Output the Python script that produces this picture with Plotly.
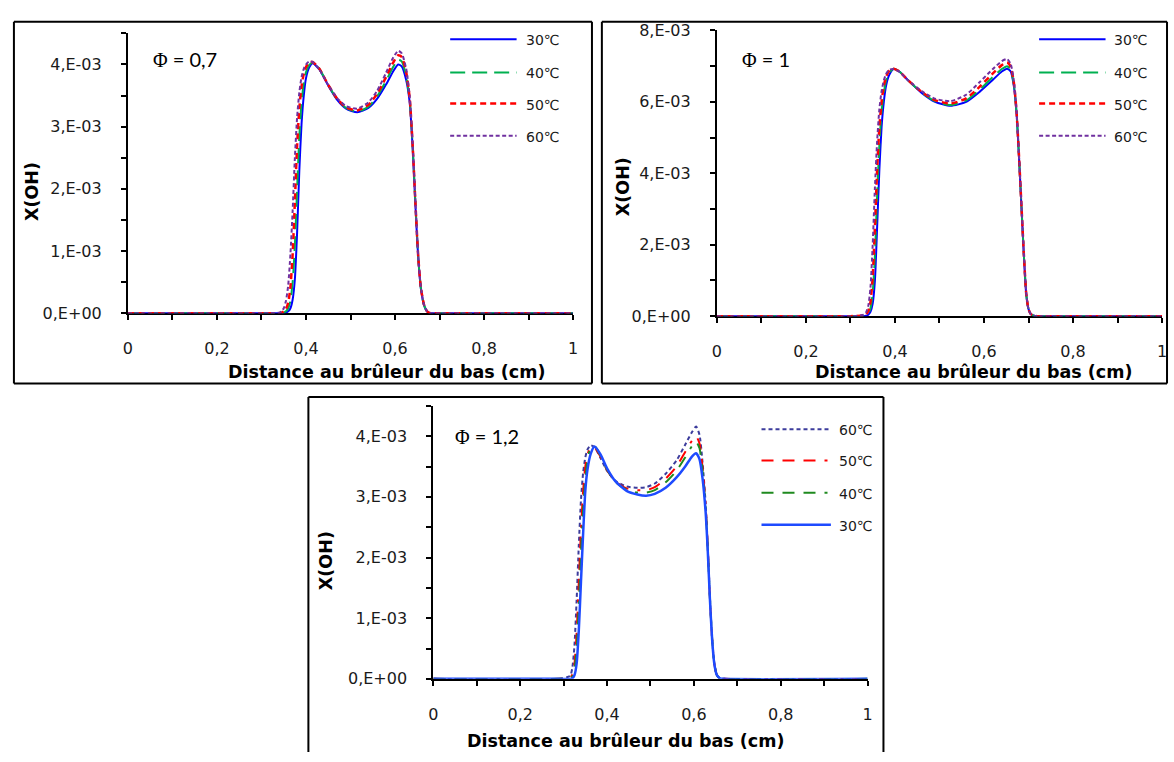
import plotly.graph_objects as go

W, H = 1174, 762
SCALE = 1e-3  # values below are read in units of 1e-3

TEMPS = ["30℃", "40℃", "50℃", "60℃"]
X_TICKS = [0, 0.2, 0.4, 0.6, 0.8, 1.0]
X_TICKTEXT = ["0", "0,2", "0,4", "0,6", "0,8", "1"]
Y_TICKS_A = [0, 1e-3, 2e-3, 3e-3, 4e-3]
Y_TICKTEXT_A = ["0,E+00", "1,E-03", "2,E-03", "3,E-03", "4,E-03"]
Y_TICKS_B = [0, 2e-3, 4e-3, 6e-3, 8e-3]
Y_TICKTEXT_B = ["0,E+00", "2,E-03", "4,E-03", "6,E-03", "8,E-03"]
PHI_LABELS = ["Φ", "= 0,7", "= 1", "= 1,2"]
X_TITLE = "Distance au brûleur du bas (cm)"
Y_TITLE = "X(OH)"

# ---- Phi = 0.7 ----
P1_X = [0, 0.30, 0.34, 0.345, 0.35, 0.355, 0.36, 0.365, 0.37, 0.375,
        0.38, 0.385, 0.39, 0.395, 0.40, 0.407, 0.415, 0.43, 0.45, 0.47,
        0.49, 0.515, 0.54, 0.56, 0.58, 0.595, 0.607, 0.615, 0.625, 0.633,
        0.64, 0.646, 0.652, 0.658, 0.665, 0.672, 0.68, 0.70, 1.0]
P1_30 = [0, 0, 0, 0, 0, 0.01, 0.03, 0.08, 0.22, 0.55,
         1.3, 2.3, 3.05, 3.5, 3.78, 3.95, 4.02, 3.92, 3.66, 3.43,
         3.29, 3.23, 3.30, 3.45, 3.68, 3.88, 4.00, 3.97, 3.75, 3.38,
         2.6, 1.7, 0.9, 0.4, 0.13, 0.03, 0, 0, 0]
P1_40 = [0, 0, 0, 0, 0.01, 0.03, 0.08, 0.2, 0.5, 1.1,
         2.0, 2.85, 3.4, 3.7, 3.88, 3.99, 4.03, 3.93, 3.67, 3.44,
         3.30, 3.24, 3.32, 3.49, 3.74, 3.95, 4.08, 4.05, 3.82, 3.42,
         2.62, 1.72, 0.9, 0.4, 0.13, 0.03, 0, 0, 0]
P1_50 = [0, 0, 0, 0.01, 0.03, 0.07, 0.17, 0.42, 0.95, 1.8,
         2.7, 3.3, 3.65, 3.85, 3.96, 4.03, 4.04, 3.93, 3.67, 3.45,
         3.31, 3.26, 3.35, 3.53, 3.80, 4.02, 4.15, 4.12, 3.88, 3.45,
         2.64, 1.74, 0.92, 0.41, 0.14, 0.03, 0, 0, 0]
P1_60 = [0, 0, 0.01, 0.03, 0.08, 0.2, 0.45, 0.95, 1.65, 2.5,
         3.15, 3.55, 3.8, 3.93, 4.0, 4.05, 4.04, 3.92, 3.67, 3.46,
         3.33, 3.29, 3.39, 3.58, 3.87, 4.10, 4.22, 4.18, 3.93, 3.48,
         2.66, 1.76, 0.93, 0.42, 0.14, 0.03, 0, 0, 0]

# ---- Phi = 1 ----
P2_X = [0, 0.30, 0.33, 0.335, 0.34, 0.345, 0.35, 0.355, 0.36, 0.365,
        0.37, 0.375, 0.38, 0.387, 0.397, 0.41, 0.43, 0.46, 0.49, 0.525,
        0.56, 0.59, 0.62, 0.64, 0.652, 0.66, 0.667, 0.673, 0.678, 0.684,
        0.69, 0.695, 0.70, 0.705, 0.712, 0.72, 1.0]
P2_30 = [0, 0, 0, 0.01, 0.04, 0.12, 0.35, 1.0, 2.5, 4.1,
         5.3, 6.0, 6.45, 6.75, 6.92, 6.85, 6.6, 6.25, 6.0, 5.89,
         6.0, 6.28, 6.62, 6.85, 6.93, 6.85, 6.45, 5.7, 4.6, 3.1,
         1.6, 0.6, 0.2, 0.06, 0.01, 0, 0]
P2_40 = [0, 0, 0.01, 0.03, 0.08, 0.22, 0.65, 1.7, 3.4, 4.8,
         5.75, 6.25, 6.6, 6.82, 6.93, 6.85, 6.6, 6.26, 6.02, 5.91,
         6.04, 6.34, 6.70, 6.92, 7.0, 6.9, 6.5, 5.72, 4.62, 3.12,
         1.62, 0.6, 0.2, 0.06, 0.01, 0, 0]
P2_50 = [0, 0, 0.02, 0.05, 0.14, 0.4, 1.1, 2.5, 4.1, 5.3,
         6.0, 6.45, 6.7, 6.87, 6.93, 6.85, 6.6, 6.28, 6.05, 5.95,
         6.1, 6.42, 6.8, 7.03, 7.1, 6.98, 6.55, 5.75, 4.64, 3.14,
         1.63, 0.61, 0.2, 0.06, 0.01, 0, 0]
P2_60 = [0, 0, 0.04, 0.1, 0.28, 0.8, 2.0, 3.6, 4.9, 5.8,
         6.3, 6.6, 6.78, 6.9, 6.92, 6.84, 6.6, 6.3, 6.09, 6.02,
         6.2, 6.55, 6.92, 7.14, 7.2, 7.06, 6.6, 5.78, 4.66, 3.15,
         1.64, 0.62, 0.2, 0.06, 0.01, 0, 0]

# ---- Phi = 1.2 ----
P3_X = [0, 0.29, 0.315, 0.32, 0.325, 0.33, 0.335, 0.34, 0.345, 0.35,
        0.355, 0.362, 0.371, 0.385, 0.40, 0.42, 0.445, 0.47, 0.49, 0.51,
        0.535, 0.56, 0.58, 0.595, 0.605, 0.613, 0.62, 0.627, 0.632, 0.637,
        0.642, 0.647, 0.653, 0.66, 0.67, 1.0]
P3_30 = [0, 0, 0, 0.01, 0.06, 0.25, 0.8, 1.6, 2.4, 3.1,
         3.45, 3.7, 3.83, 3.7, 3.47, 3.25, 3.1, 3.04, 3.02, 3.05,
         3.15, 3.32, 3.5, 3.66, 3.72, 3.62, 3.3, 2.75, 2.1, 1.3,
         0.65, 0.25, 0.06, 0.01, 0, 0]
P3_40 = [0, 0, 0.01, 0.04, 0.15, 0.5, 1.2, 2.05, 2.8, 3.3,
         3.6, 3.8, 3.84, 3.68, 3.45, 3.24, 3.12, 3.07, 3.07, 3.11,
         3.24, 3.43, 3.65, 3.83, 3.91, 3.8, 3.42, 2.82, 2.14, 1.32,
         0.66, 0.25, 0.06, 0.01, 0, 0]
P3_50 = [0, 0, 0.02, 0.07, 0.25, 0.75, 1.6, 2.45, 3.1, 3.5,
         3.7, 3.82, 3.82, 3.66, 3.44, 3.25, 3.14, 3.11, 3.11, 3.16,
         3.3, 3.5, 3.74, 3.92, 4.0, 3.88, 3.48, 2.86, 2.16, 1.33,
         0.66, 0.25, 0.06, 0.01, 0, 0]
P3_60 = [0, 0, 0.05, 0.18, 0.55, 1.3, 2.2, 2.95, 3.4, 3.65,
         3.78, 3.85, 3.82, 3.64, 3.43, 3.26, 3.17, 3.15, 3.16, 3.22,
         3.38, 3.6, 3.86, 4.06, 4.16, 4.02, 3.56, 2.9, 2.18, 1.34,
         0.67, 0.26, 0.06, 0.01, 0, 0]

# ---------------- styles ----------------
STYLE_TOP = {
    "30℃": dict(color="#0000FF", width=2, dash="solid"),
    "40℃": dict(color="#00B050", width=2, dash="15px,7px"),
    "50℃": dict(color="#FF0000", width=2.5, dash="6px,4px"),
    "60℃": dict(color="#7030A0", width=2, dash="4px,2.5px"),
}
LDD = "12px,9px,12px,9px,12px,9px,3px,9px"
STYLE_BOT = {
    "30℃": dict(color="#1E4BFF", width=2.5, dash="solid"),
    "40℃": dict(color="#1F8A1F", width=2, dash=LDD),
    "50℃": dict(color="#FF0000", width=2, dash=LDD),
    "60℃": dict(color="#3C3C9C", width=2, dash="4px,3px"),
}


def px(x):
    return x / W


def py(y):
    return 1 - y / H


panels = [
    dict(x=P1_X, ys=[P1_30, P1_40, P1_50, P1_60], order=TEMPS, legend_order=TEMPS,
         style=STYLE_TOP, xdom=[px(124), px(573)], ydom=[py(312), py(25)],
         yrange=[0, 4.5e-3], yt=Y_TICKS_A, ytt=Y_TICKTEXT_A, ydm=0.5e-3,
         frame=(9, 13, 592, 384, True), phi=PHI_LABELS[1], phi_pos=(147, 51),
         leg_x=(449, 516, 523), leg_y=[31, 65, 97, 130],
         xt_pos=(385, 372), yt_pos=(28, 187)),
    dict(x=P2_X, ys=[P2_30, P2_40, P2_50, P2_60], order=TEMPS, legend_order=TEMPS,
         style=STYLE_TOP, xdom=[px(718), px(1167)], ydom=[py(315), py(22)],
         yrange=[0, 8e-3], yt=Y_TICKS_B, ytt=Y_TICKTEXT_B, ydm=1e-3,
         frame=(602, 13, 1172, 384, True), phi=PHI_LABELS[2], phi_pos=(741, 51),
         leg_x=(1043, 1110, 1117), leg_y=[31, 65, 97, 130],
         xt_pos=(977, 372), yt_pos=(624, 182)),
    dict(x=P3_X, ys=[P3_30, P3_40, P3_50, P3_60], order=TEMPS[::-1], legend_order=TEMPS[::-1],
         style=STYLE_BOT, xdom=[px(432), px(870)], ydom=[py(687), py(407)],
         yrange=[0, 4.5e-3], yt=Y_TICKS_A, ytt=Y_TICKTEXT_A, ydm=0.5e-3,
         frame=(306, 398, 886, 762, False), phi=PHI_LABELS[3], phi_pos=(452, 438),
         leg_x=(763, 833, 839), leg_y=[431, 463, 496, 529],
         xt_pos=(626, 751), yt_pos=(324, 566)),
]

fig = go.Figure()
shapes = []
annotations = []
TICKFONT = dict(family="DejaVu Sans", size=16, color="#1a1a1a")
TITLEFONT = dict(family="DejaVu Sans", size=17.5, color="black")
FRAME_LINE = dict(color="black", width=2)

for i, p in enumerate(panels):
    n = "" if i == 0 else str(i + 1)
    xa, ya = "x" + n, "y" + n
    series = dict(zip(TEMPS, p["ys"]))
    for t in p["order"]:
        fig.add_trace(go.Scatter(
            x=p["x"], y=[v * SCALE for v in series[t]], name=t, mode="lines",
            line=dict(shape="spline", smoothing=0.6, **p["style"][t]),
            xaxis=xa, yaxis=ya, showlegend=False))
    fig.update_layout({
        "xaxis" + n: dict(
            domain=p["xdom"], anchor=ya, range=[0, 1],
            tickmode="array", tickvals=X_TICKS, ticktext=X_TICKTEXT,
            ticks="outside", ticklen=5, tickwidth=1.5, tickcolor="black",
            minor=dict(ticks="outside", ticklen=5, tickwidth=1.5, tickcolor="black",
                       tick0=0, dtick=0.1),
            showline=True, linecolor="black", linewidth=2, showgrid=False,
            zeroline=False, tickfont=TICKFONT, ticklabelstandoff=15,
            layer="below traces"),
        "yaxis" + n: dict(
            domain=p["ydom"], anchor=xa, range=p["yrange"],
            tickmode="array", tickvals=p["yt"], ticktext=p["ytt"],
            ticks="outside", ticklen=5, tickwidth=1.5, tickcolor="black",
            minor=dict(ticks="outside", ticklen=5, tickwidth=1.5, tickcolor="black",
                       tick0=0, dtick=p["ydm"]),
            showline=True, linecolor="black", linewidth=2, showgrid=False,
            zeroline=False, tickfont=TICKFONT, ticklabelstandoff=16,
            layer="below traces"),
    })
    # panel frame (the bottom panel's frame runs off the lower edge)
    x0, y0, x1, y1, closed = p["frame"]
    edges = [(x0, y0, x1, y0), (x0, y0, x0, y1), (x1, y0, x1, y1)]
    if closed:
        edges.append((x0, y1, x1, y1))
    for ax0, ay0, ax1, ay1 in edges:
        shapes.append(dict(type="line", xref="paper", yref="paper",
                           x0=px(ax0), x1=px(ax1), y0=py(ay0), y1=py(ay1), line=FRAME_LINE))
    # legend (drawn manually to match the long sample lines)
    lx0, lx1, ltx = p["leg_x"]
    for t, ly in zip(p["legend_order"], p["leg_y"]):
        st = p["style"][t]
        shapes.append(dict(type="line", xref="paper", yref="paper",
                           x0=px(lx0), x1=px(lx1), y0=py(ly), y1=py(ly),
                           line=dict(color=st["color"], width=st["width"], dash=st["dash"])))
        annotations.append(dict(xref="paper", yref="paper", x=px(ltx), y=py(ly + 1),
                                text=t, showarrow=False, xanchor="left", yanchor="middle",
                                font=dict(family="DejaVu Sans", size=14, color="#1a1a1a")))
    # phi label
    annotations.append(dict(
        xref="paper", yref="paper", x=px(p["phi_pos"][0]), y=py(p["phi_pos"][1]),
        text='<span style="font-family:Liberation Serif">' + PHI_LABELS[0] + '</span> ' + p["phi"],
        showarrow=False, xanchor="left", yanchor="middle",
        font=dict(family="Lato", size=20, color="black")))
    # axis titles
    annotations.append(dict(xref="paper", yref="paper", x=px(p["xt_pos"][0]), y=py(p["xt_pos"][1]),
                            text="<b>" + X_TITLE + "</b>", showarrow=False,
                            xanchor="center", yanchor="middle", font=TITLEFONT))
    annotations.append(dict(xref="paper", yref="paper", x=px(p["yt_pos"][0]), y=py(p["yt_pos"][1]),
                            text="<b>" + Y_TITLE + "</b>", showarrow=False, textangle=-90,
                            xanchor="center", yanchor="middle", font=TITLEFONT))

fig.update_layout(
    width=W, height=H, autosize=False,
    margin=dict(l=0, r=0, t=0, b=0),
    paper_bgcolor="white", plot_bgcolor="white",
    showlegend=False, shapes=shapes, annotations=annotations,
)

PIN_PAGE = (
    "document.documentElement.style.margin='0px';"
    "document.body.style.margin='0px';"
    "document.body.style.padding='0px';"
    "var gd=document.getElementById('{plot_id}');"
    "gd.style.position='fixed';gd.style.left='0px';gd.style.top='0px';"
    "window.scrollTo(0,0);"
)
fig.write_html("out.html", config={"displayModeBar": False}, post_script=PIN_PAGE)
